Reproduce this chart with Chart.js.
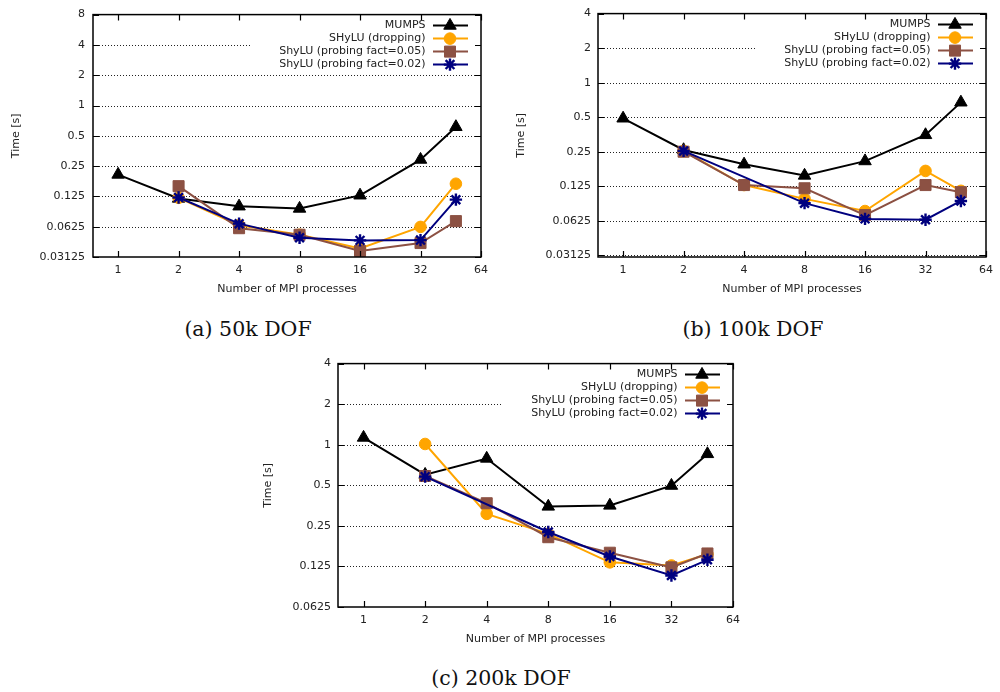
<!DOCTYPE html>
<html>
<head>
<meta charset="utf-8">
<script src="https://cdn.jsdelivr.net/npm/chart.js@4.4.1/dist/chart.umd.min.js"></script>
<style>
  html, body { margin: 0; padding: 0; background: #fff; }
  #wrap { position: relative; width: 1000px; height: 692px; overflow: hidden; }
  canvas { position: absolute; }
  .cap { position: absolute; width: 300px; text-align: center; font-family: 'DejaVu Serif', serif;
         font-size: 20.5px; line-height: 20.5px; color: #111; white-space: nowrap; }
</style>
</head>
<body>
<div id="wrap">
  <canvas id="c50" width="500" height="300" style="left:0;top:0"></canvas>
  <canvas id="c100" width="500" height="300" style="left:500px;top:0"></canvas>
  <canvas id="c200" width="500" height="300" style="left:250px;top:350px"></canvas>
  <div class="cap" style="left:98px;top:319px">(a) 50k DOF</div>
  <div class="cap" style="left:603px;top:319px">(b) 100k DOF</div>
  <div class="cap" style="left:351px;top:668px">(c) 200k DOF</div>
</div>
<script>
// ---------- Data ----------
var procs  = [1, 2, 4, 8, 16, 32, 48];
var xTicks = [1, 2, 4, 8, 16, 32, 64];
var seriesNames = ['MUMPS', 'SHyLU (dropping)', 'ShyLU (probing fact=0.05)', 'ShyLU (probing fact=0.02)'];

// (a) 50k DOF
var mumps50   = [0.206, 0.119, 0.0996, 0.0946, 0.128, 0.29, 0.613];
var drop50    = [null, 0.121, 0.0647, 0.052, 0.038, 0.0622, 0.167];
var probe05_50 = [null, 0.158, 0.0604, 0.052, 0.0359, 0.043, 0.071];
var probe02_50 = [null, 0.122, 0.067, 0.0485, 0.0457, 0.046, 0.116];
var yTicks50  = [0.03125, 0.0625, 0.125, 0.25, 0.5, 1, 2, 4, 8];

// (b) 100k DOF
var mumps100   = [0.488, 0.259, 0.194, 0.155, 0.207, 0.35, 0.673];
var drop100    = [null, 0.254, 0.128, 0.097, 0.076, 0.17, 0.114];
var probe05_100 = [null, 0.25, 0.128, 0.12, 0.070, 0.128, 0.111];
var probe02_100 = [null, 0.254, null, 0.089, 0.0649, 0.0638, 0.093];
var yTicks100  = [0.03125, 0.0625, 0.125, 0.25, 0.5, 1, 2, 4];

// (c) 200k DOF
var mumps200   = [1.13, 0.60, 0.79, 0.348, 0.354, 0.497, 0.854];
var drop200    = [null, 1.013, 0.307, 0.218, 0.134, 0.127, 0.154];
var probe05_200 = [null, 0.586, 0.368, 0.206, 0.158, 0.123, 0.156];
var probe02_200 = [null, 0.58, null, 0.225, 0.148, 0.107, 0.140];
var yTicks200  = [0.0625, 0.125, 0.25, 0.5, 1, 2, 4];

// ---------- Styles ----------
var colors = ['#000000', '#ffa500', '#8c5143', '#00007f'];
var styles = ['triangle', 'circle', 'rect', 'star'];
var radii  = [7.2, 5.8, 7.8, 6.2];
var textColor = '#222';
var tickFont = { family: "'DejaVu Sans', sans-serif", size: 11 };

function series(i, vals) {
  return {
    label: seriesNames[i],
    data: procs.map(function (p, k) { return { x: p, y: vals[k] }; }),
    borderColor: colors[i],
    backgroundColor: colors[i],
    borderWidth: 2,
    pointStyle: styles[i],
    pointRadius: radii[i],
    pointBackgroundColor: colors[i],
    pointBorderColor: colors[i],
    pointBorderWidth: styles[i] === 'star' ? 2.4 : 1,
    spanGaps: true,
    tension: 0,
    order: 4 - i,
  };
}

// gnuplot-like frame: dotted grid, key box, border, inward tics, key
var framePlugin = {
  id: 'gnuFrame',
  beforeDatasetsDraw: function (chart) {
    var ctx = chart.ctx, a = chart.chartArea, ys = chart.scales.y;
    ctx.save();
    ctx.strokeStyle = '#222';
    ctx.lineWidth = 1;
    ctx.setLineDash([1, 2]);
    ys.ticks.forEach(function (t) {
      if (t.value <= ys.min || t.value >= ys.max) return;
      var py = Math.round(ys.getPixelForValue(t.value)) + 0.5;
      ctx.beginPath(); ctx.moveTo(a.left, py); ctx.lineTo(a.right, py); ctx.stroke();
    });
    ctx.setLineDash([]);
    ctx.fillStyle = '#fff';
    ctx.fillRect(a.right - 231, a.top + 3, 230, 55);
    ctx.restore();
  },
  afterDatasetsDraw: function (chart) {
    var ctx = chart.ctx, a = chart.chartArea, xs = chart.scales.x, ys = chart.scales.y;
    var tl = 6;
    ctx.save();
    ctx.strokeStyle = '#000';
    ctx.lineWidth = 1.2;
    ys.ticks.forEach(function (t) {
      var py = Math.round(ys.getPixelForValue(t.value)) + 0.5;
      ctx.beginPath();
      ctx.moveTo(a.left, py); ctx.lineTo(a.left + tl, py);
      ctx.moveTo(a.right, py); ctx.lineTo(a.right - tl, py);
      ctx.stroke();
    });
    xs.ticks.forEach(function (t) {
      var px = Math.round(xs.getPixelForValue(t.value)) + 0.5;
      ctx.beginPath();
      ctx.moveTo(px, a.bottom); ctx.lineTo(px, a.bottom - tl);
      ctx.moveTo(px, a.top); ctx.lineTo(px, a.top + tl);
      ctx.stroke();
    });
    ctx.lineWidth = 1.5;
    ctx.strokeRect(a.left, a.top, a.right - a.left, a.bottom - a.top);

    // key
    ctx.font = "11px 'DejaVu Sans', sans-serif";
    ctx.textAlign = 'right';
    ctx.textBaseline = 'middle';
    chart.data.datasets.forEach(function (ds, i) {
      var ry = a.top + 11 + 13 * i;
      ctx.fillStyle = textColor;
      ctx.fillText(ds.label, a.right - 55.5, ry);
      ctx.strokeStyle = ds.borderColor;
      ctx.lineWidth = 2;
      ctx.beginPath(); ctx.moveTo(a.right - 48, ry); ctx.lineTo(a.right - 13, ry); ctx.stroke();
      ctx.fillStyle = ds.pointBackgroundColor;
      ctx.lineWidth = ds.pointBorderWidth;
      Chart.helpers.drawPoint(ctx, { pointStyle: ds.pointStyle, radius: ds.pointRadius, borderWidth: ds.pointBorderWidth, rotation: 0 }, a.right - 31, ry);
    });
    ctx.restore();
  }
};

function makeChart(id, sets, yMin, yMax, yTicks, cfg) {
  return new Chart(document.getElementById(id), {
    type: 'line',
    data: { datasets: sets.map(function (v, i) { return series(i, v); }) },
    plugins: [framePlugin],
    options: {
      responsive: false,
      animation: false,
      devicePixelRatio: 1,
      layout: { padding: { top: cfg.top, right: cfg.right, left: 0, bottom: 0 } },
      plugins: { legend: { display: false }, tooltip: { enabled: false } },
      scales: {
        x: {
          type: 'logarithmic', min: 0.75, max: 64,
          afterBuildTicks: function (s) { s.ticks = xTicks.map(function (v) { return { value: v }; }); },
          afterFit: function (s) { s.height = cfg.xh; },
          grid: { display: false, drawTicks: false },
          border: { display: false },
          ticks: { autoSkip: false, maxRotation: 0, padding: 7, color: textColor, font: tickFont,
                   callback: function (v) { return String(v); } },
          title: { display: true, text: 'Number of MPI processes', color: textColor, font: tickFont,
                   padding: { top: 0, bottom: 4.7 } },
        },
        y: {
          type: 'logarithmic', min: yMin, max: yMax,
          afterBuildTicks: function (s) { s.ticks = yTicks.map(function (v) { return { value: v }; }); },
          afterFit: function (s) { s.width = cfg.yw; },
          grid: { display: false, drawTicks: false },
          border: { display: false },
          ticks: { autoSkip: false, padding: cfg.ypad, color: textColor, font: tickFont,
                   callback: function (v) { return String(v); } },
          title: { display: true, text: 'Time [s]', color: textColor, font: tickFont,
                   padding: { top: cfg.ytp, bottom: 0 } },
        },
      },
    },
  });
}

makeChart('c50', [mumps50, drop50, probe05_50, probe02_50], 0.03125, 8, yTicks50,
  { top: 13, right: 19, xh: 43, yw: 93, ypad: 8, ytp: 9.4 });
makeChart('c100', [mumps100, drop100, probe05_100, probe02_100], 0.0302, 4, yTicks100,
  { top: 13, right: 13, xh: 43, yw: 98, ypad: 7, ytp: 14.1 });
makeChart('c200', [mumps200, drop200, probe05_200, probe02_200], 0.0625, 4, yTicks200,
  { top: 13, right: 17, xh: 43, yw: 88, ypad: 7, ytp: 11.7 });
</script>
</body>
</html>
